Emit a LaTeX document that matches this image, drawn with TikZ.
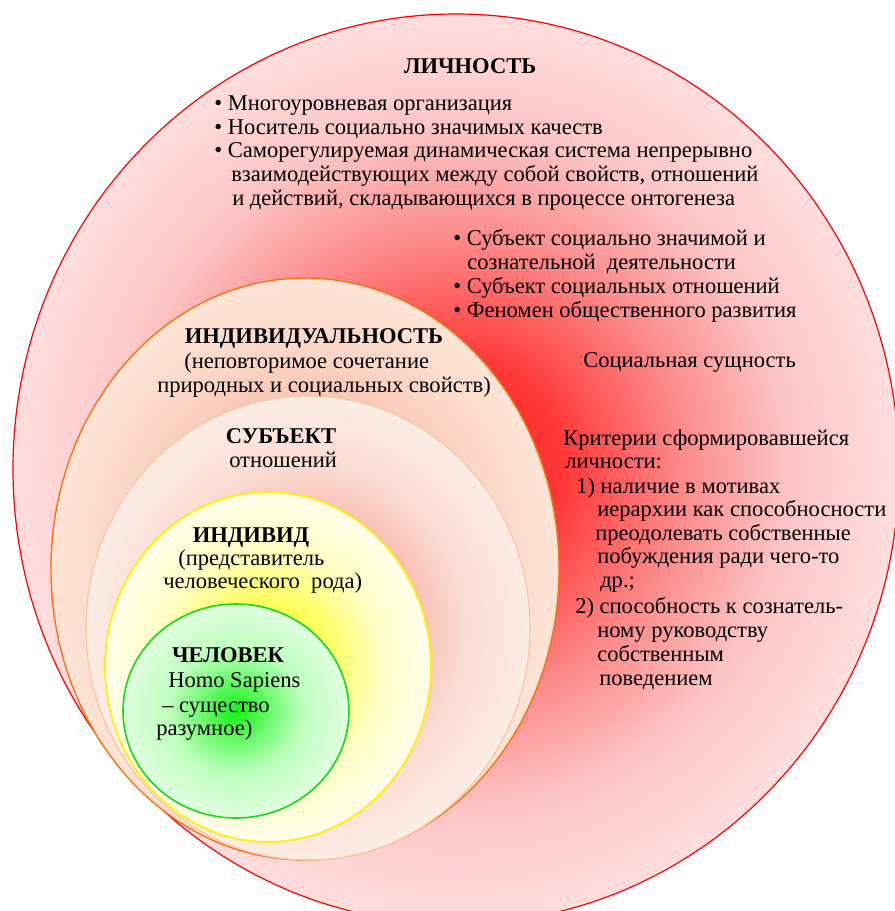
\documentclass[tikz,border=0pt]{standalone}
\usepackage{fontspec}
\setmainfont{Liberation Serif}
\pgfdeclareradialshading{lichsh}{\pgfpoint{0bp}{0bp}}{rgb(0bp)=(1,0.10,0.10); rgb(6bp)=(1,0.22,0.22); rgb(12.5bp)=(0.99,0.53,0.53); rgb(18.75bp)=(0.99,0.77,0.77); rgb(25bp)=(1,0.87,0.87); rgb(50bp)=(1,0.87,0.87)}
\pgfdeclareradialshading{indsh}{\pgfpoint{0bp}{0bp}}{rgb(0bp)=(0.96,0.55,0.45); rgb(12.5bp)=(0.97,0.74,0.66); rgb(18.75bp)=(0.985,0.84,0.78); rgb(25bp)=(0.99,0.895,0.835); rgb(50bp)=(0.99,0.895,0.835)}
\pgfdeclareradialshading{subsh}{\pgfpoint{0bp}{0bp}}{rgb(0bp)=(0.95,0.45,0.42); rgb(11bp)=(0.97,0.72,0.68); rgb(17.5bp)=(0.985,0.86,0.82); rgb(25bp)=(0.99,0.93,0.9); rgb(50bp)=(0.99,0.93,0.9)}
\pgfdeclareradialshading{ivdsh}{\pgfpoint{0bp}{0bp}}{rgb(0bp)=(1,1,0); rgb(10bp)=(1,1,0.4); rgb(17.5bp)=(1,1,0.78); rgb(25bp)=(1,1,0.92); rgb(50bp)=(1,1,0.92)}
\pgfdeclareradialshading{chelsh}{\pgfpoint{0bp}{0bp}}{rgb(0bp)=(0.08,0.94,0.08); rgb(7.5bp)=(0.43,0.98,0.43); rgb(15bp)=(0.75,1,0.75); rgb(25bp)=(0.88,1,0.88); rgb(50bp)=(0.88,1,0.88)}
\newcommand\putline[4]{\node[txt] (#1) at (#2,#3) {#4};}
\newcommand\puthead[4]{\node[head] (#1) at (#2,#3) {#4};}
\begin{document}
\begin{tikzpicture}[x=0.75pt,y=-0.75pt,
  txt/.style={font=\fontsize{16.9}{18}\selectfont, inner sep=0pt, anchor=base west},
  head/.style={font=\fontsize{16.9}{18}\selectfont\bfseries, inner sep=0pt, anchor=base}]
\useasboundingbox (0,0) rectangle (895,911);
\begin{scope}
\clip (0,0) rectangle (895,911);
\shade[shading=lichsh] (456,469) ellipse [x radius=443, y radius=455];
\draw[red, line width=0.9pt] (456,469) ellipse [x radius=443, y radius=455];
\end{scope}
\shade[shading=indsh] (305,569) ellipse [x radius=254, y radius=291];
\draw[color={rgb,255:red,255;green,110;blue,10}, line width=1pt] (305,569) ellipse [x radius=254, y radius=291];
\shade[shading=subsh] (308,628) ellipse [x radius=222, y radius=232];
\draw[color={rgb,255:red,250;green,195;blue,160}, line width=0.8pt] (308,628) ellipse [x radius=222, y radius=232];
\shade[shading=ivdsh] (268,667) ellipse [x radius=163, y radius=175];
\draw[color={rgb,255:red,255;green,240;blue,0}, line width=1.3pt] (268,667) ellipse [x radius=163, y radius=175];
\shade[shading=chelsh] (236,711) ellipse [x radius=113, y radius=107];
\draw[color={rgb,255:red,20;green,220;blue,20}, line width=1.2pt] (236,711) ellipse [x radius=113, y radius=107];
% top block
\puthead{lich}{470}{73}{ЛИЧНОСТЬ}
\putline{l1}{214}{110}{• Многоуровневая организация}
\putline{l2}{214}{134}{• Носитель социально значимых качеств}
\putline{l3}{214}{157}{• Саморегулируемая динамическая система непрерывно}
\putline{l4}{231}{181}{взаимодействующих между собой свойств, отношений}
\putline{l5}{232}{205}{и действий, складывающихся в процессе онтогенеза}
% second block
\putline{s1}{453}{245}{• Субъект социально значимой и}
\putline{s2}{467}{269}{сознательной\ \ деятельности}
\putline{s3}{453}{293}{• Субъект социальных отношений}
\putline{s4}{453}{317}{• Феномен общественного развития}
\putline{soc}{583}{367}{Социальная сущность}
% criteria
\putline{k1}{563}{445}{Критерии сформировавшейся}
\putline{k2}{565}{468}{личности:}
\putline{k3}{576}{493}{1) наличие в мотивах}
\putline{k4}{597}{516}{иерархии как способносности}
\putline{k5}{595}{540}{преодолевать собственные}
\putline{k6}{597}{563}{побуждения ради чего-то}
\putline{k7}{600}{587}{др.;}
\putline{k8}{575}{613}{2) способность к сознатель-}
\putline{k9}{597}{637}{ному руководству}
\putline{k10}{597}{661}{собственным}
\putline{k11}{599}{685}{поведением}
% individuality
\puthead{ind}{314}{343}{ИНДИВИДУАЛЬНОСТЬ}
\putline{ind1}{184}{368}{(неповторимое сочетание}
\putline{ind2}{157}{392}{природных и социальных свойств)}
% subject
\puthead{sub}{281}{443}{СУБЪЕКТ}
\putline{sub1}{229}{467}{отношений}
% individ
\puthead{ivd}{251}{542}{ИНДИВИД}
\putline{ivd1}{178}{565}{(представитель}
\putline{ivd2}{163}{588}{человеческого\ \ рода)}
% chelovek
\puthead{chel}{228}{662}{ЧЕЛОВЕК}
\putline{ch1}{168}{687}{Homo Sapiens}
\putline{ch2}{162}{712}{– существо}
\putline{ch3}{156}{735}{разумное)}
\end{tikzpicture}
\end{document}
